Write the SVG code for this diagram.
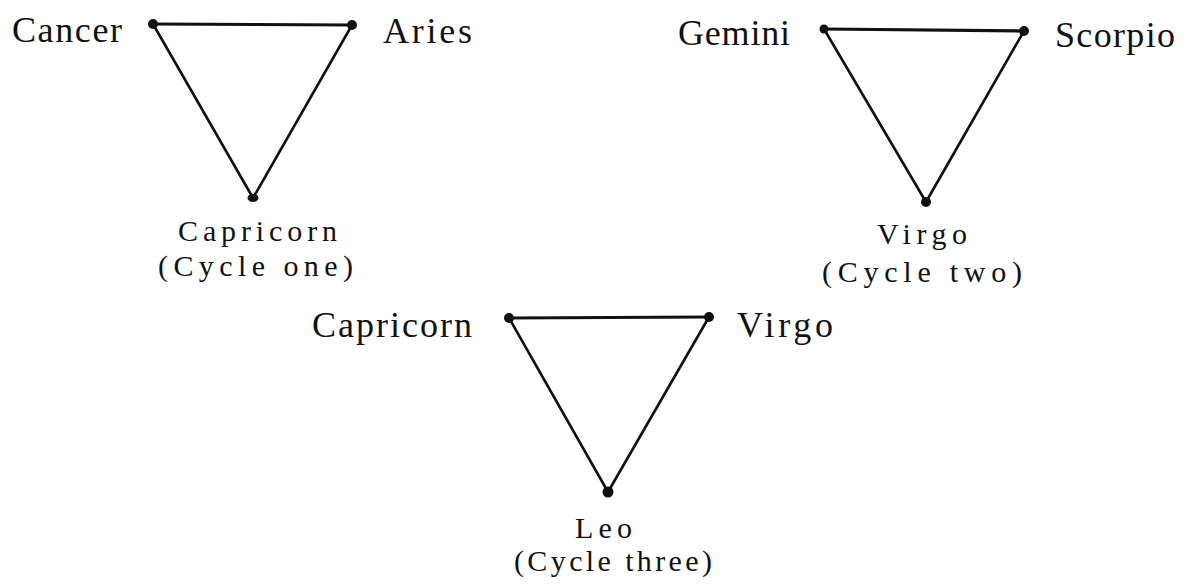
<svg xmlns="http://www.w3.org/2000/svg" width="1190" height="585" viewBox="0 0 1190 585">
<style>
.lbl{font-family:"Liberation Serif","Times New Roman",serif;font-size:36px;fill:#111;}
.sub{font-size:30px;}
.edge{stroke:#111;stroke-width:2.6;fill:none;stroke-linecap:round;}
.top{stroke-width:3.2;}
.dot{fill:#111;}
</style>
<rect width="1190" height="585" fill="#fff"/>
<g id="connectors">
<line class="edge top" x1="153" y1="24" x2="352" y2="25"/>
<line class="edge" x1="153" y1="24" x2="253" y2="198"/>
<line class="edge" x1="352" y1="25" x2="253" y2="198"/>
<line class="edge top" x1="824" y1="29" x2="1024" y2="31"/>
<line class="edge" x1="824" y1="29" x2="926" y2="202"/>
<line class="edge" x1="1024" y1="31" x2="926" y2="202"/>
<line class="edge top" x1="509" y1="318" x2="709" y2="317"/>
<line class="edge" x1="509" y1="318" x2="608" y2="492"/>
<line class="edge" x1="709" y1="317" x2="608" y2="492"/>
</g>
<g id="cancer"><circle class="dot" cx="153" cy="24" r="5"/><text class="lbl" x="12" y="42" textLength="110">Cancer</text></g>
<g id="aries"><circle class="dot" cx="352" cy="25" r="5"/><text class="lbl" x="383" y="43" textLength="89">Aries</text></g>
<g id="capricorn1"><ellipse class="dot" cx="253" cy="198" rx="5.5" ry="4"/><text class="lbl sub" x="178" y="241" textLength="159">Capricorn</text><text class="lbl sub" x="158" y="276" textLength="195">(Cycle one)</text></g>
<g id="gemini"><circle class="dot" cx="824" cy="29" r="4.5"/><text class="lbl" x="678" y="45" textLength="112">Gemini</text></g>
<g id="scorpio"><circle class="dot" cx="1024" cy="31" r="5"/><text class="lbl" x="1055" y="47" textLength="120">Scorpio</text></g>
<g id="virgo2"><circle class="dot" cx="926" cy="202" r="5"/><text class="lbl sub" x="877" y="244" textLength="90">Virgo</text><text class="lbl sub" x="822" y="282" textLength="200">(Cycle two)</text></g>
<g id="capricorn3"><circle class="dot" cx="509" cy="318" r="5"/><text class="lbl" x="312" y="337" textLength="160">Capricorn</text></g>
<g id="virgo3"><circle class="dot" cx="709" cy="317" r="5"/><text class="lbl" x="737" y="337" textLength="96">Virgo</text></g>
<g id="leo"><circle class="dot" cx="608" cy="492" r="5.5"/><text class="lbl sub" x="575" y="538" textLength="57">Leo</text><text class="lbl sub" x="514" y="571" textLength="198">(Cycle three)</text></g>
</svg>
